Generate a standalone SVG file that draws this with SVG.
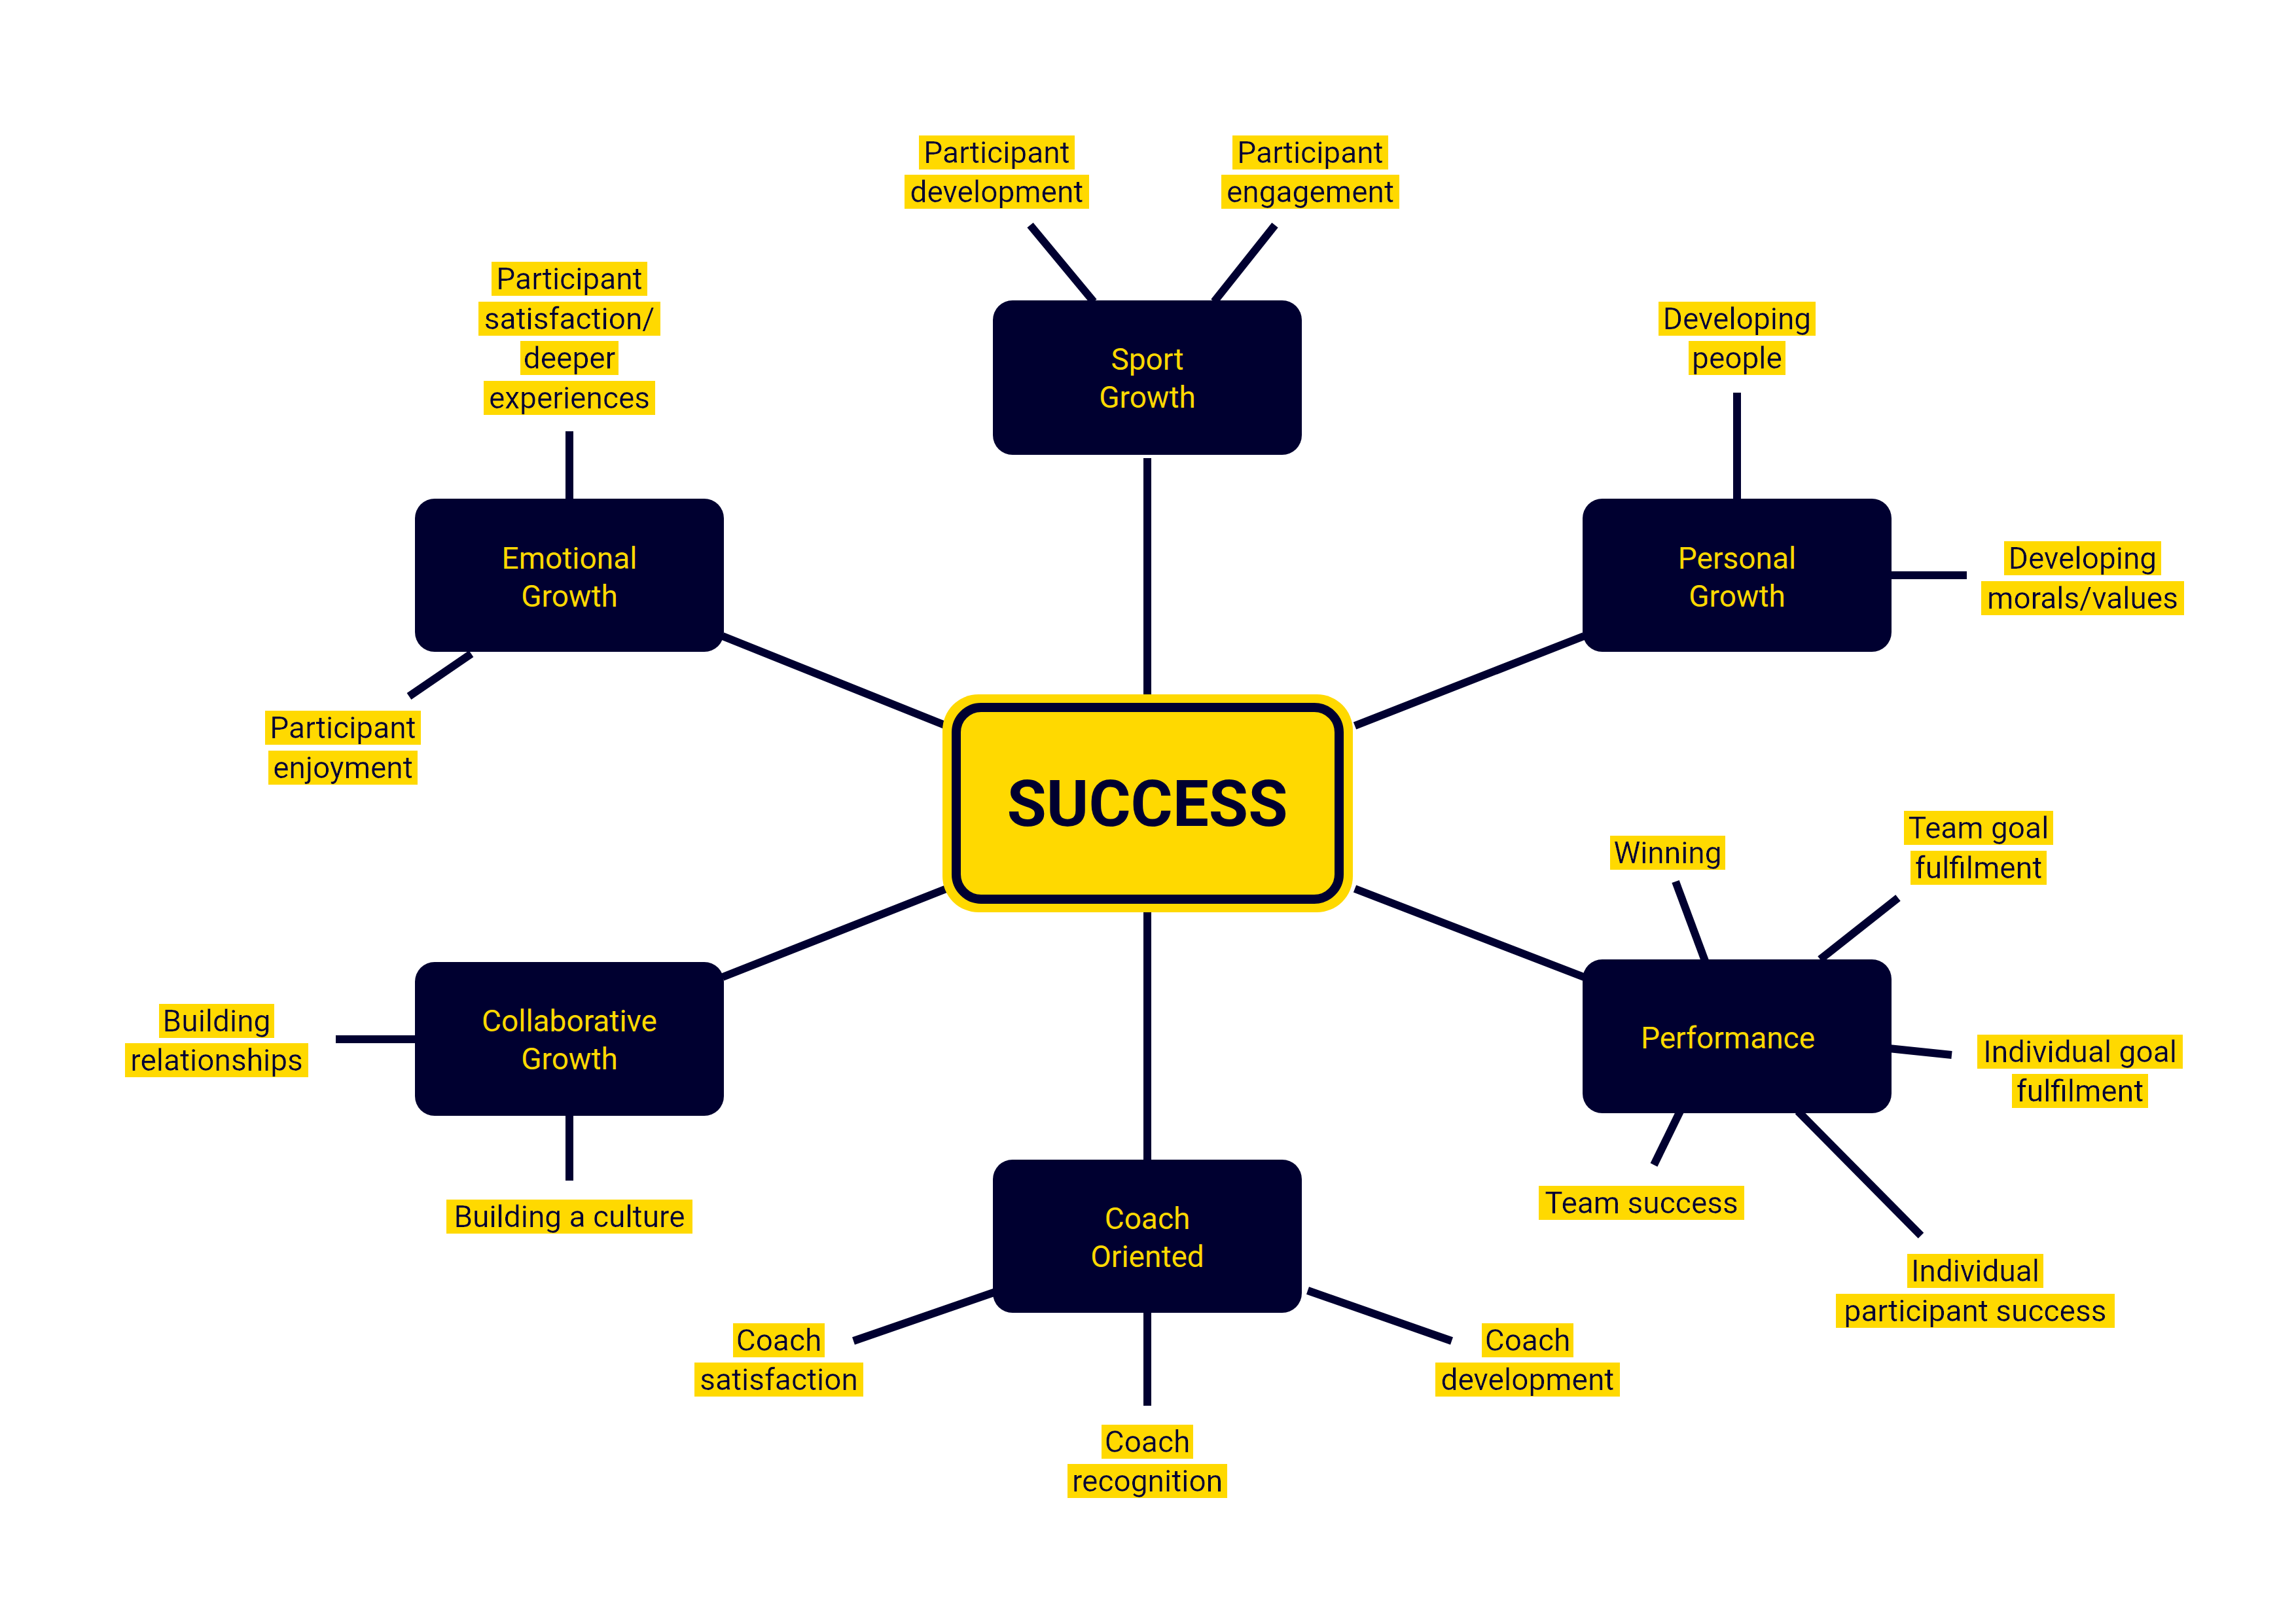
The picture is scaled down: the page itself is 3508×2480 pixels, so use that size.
<svg xmlns="http://www.w3.org/2000/svg" width="3508" height="2480" viewBox="0 0 3508 2480">
<style>
.box{fill:#000030}
.nt{fill:#FFD900;font-family:Roboto,"DejaVu Sans",sans-serif;font-size:46px;text-anchor:middle}
.lt{fill:#000030;font-family:Roboto,"DejaVu Sans",sans-serif;font-size:46px;text-anchor:middle;filter:url(#hl)}
.c line{stroke:#000030;stroke-width:12}
</style>
<defs>
<filter id="hl" x="-0.03" y="0.02" width="1.06" height="0.96">
<feFlood flood-color="#FFD900"/>
<feMerge><feMergeNode/><feMergeNode in="SourceGraphic"/></feMerge>
</filter>
</defs>
<rect width="3508" height="2480" fill="#fff"/>
<g class="c" id="connectors">
<line x1="1753" y1="700" x2="1753" y2="1065"/>
<line x1="1753" y1="1390" x2="1753" y2="1772"/>
<line x1="2070" y1="1109" x2="2420" y2="972"/>
<line x1="1446" y1="1109" x2="1104" y2="972"/>
<line x1="1446" y1="1358" x2="1104" y2="1493"/>
<line x1="2070" y1="1358" x2="2420" y2="1493"/>
<line x1="1574" y1="344" x2="1671" y2="461"/>
<line x1="1948" y1="344" x2="1855" y2="461"/>
<line x1="870" y1="659" x2="870" y2="764"/>
<line x1="720" y1="999" x2="625" y2="1064"/>
<line x1="2654" y1="600" x2="2654" y2="764"/>
<line x1="2888" y1="879" x2="3005" y2="879"/>
<line x1="2560" y1="1347" x2="2605" y2="1468"/>
<line x1="2900" y1="1372" x2="2781" y2="1466"/>
<line x1="2886" y1="1602" x2="2982" y2="1612"/>
<line x1="2567" y1="1698" x2="2527" y2="1780"/>
<line x1="2747" y1="1698" x2="2935" y2="1888"/>
<line x1="513" y1="1588" x2="636" y2="1588"/>
<line x1="870" y1="1703" x2="870" y2="1804"/>
<line x1="1527" y1="1972" x2="1304" y2="2049"/>
<line x1="1753" y1="2004" x2="1753" y2="2148"/>
<line x1="1998" y1="1972" x2="2218" y2="2049"/>
</g>
<g id="success">
<rect x="1440" y="1061" width="627" height="333" rx="55" fill="#FFD900"/>
<rect x="1461" y="1081" width="585" height="293" rx="38" fill="#FFD900" stroke="#000030" stroke-width="14"/>
<text x="1753" y="1262" fill="#000030" font-family="Roboto,'DejaVu Sans',sans-serif" font-weight="bold" font-size="98" text-anchor="middle">SUCCESS</text>
</g>
<g id="sport"><rect class="box" x="1517" y="459" width="472" height="236" rx="30"/><text class="nt" x="1753" y="565">Sport</text><text class="nt" x="1753" y="623">Growth</text></g>
<g id="personal"><rect class="box" x="2418" y="762" width="472" height="234" rx="30"/><text class="nt" x="2654" y="869">Personal</text><text class="nt" x="2654" y="927">Growth</text></g>
<g id="emotional"><rect class="box" x="634" y="762" width="472" height="234" rx="30"/><text class="nt" x="870" y="869">Emotional</text><text class="nt" x="870" y="927">Growth</text></g>
<g id="collaborative"><rect class="box" x="634" y="1470" width="472" height="235" rx="30"/><text class="nt" x="870" y="1576">Collaborative</text><text class="nt" x="870" y="1634">Growth</text></g>
<g id="performance"><rect class="box" x="2418" y="1466" width="472" height="235" rx="30"/><text class="nt" x="2640" y="1602">Performance</text></g>
<g id="coach"><rect class="box" x="1517" y="1772" width="472" height="234" rx="30"/><text class="nt" x="1753" y="1878">Coach</text><text class="nt" x="1753" y="1936">Oriented</text></g>
<g id="leaves">
<text class="lt" x="1523" y="249">Participant</text><text class="lt" x="1523" y="309">development</text>
<text class="lt" x="2002" y="249">Participant</text><text class="lt" x="2002" y="309">engagement</text>
<text class="lt" x="870" y="442">Participant</text><text class="lt" x="870" y="503">satisfaction/</text><text class="lt" x="870" y="563">deeper</text><text class="lt" x="870" y="624">experiences</text>
<text class="lt" x="524" y="1128">Participant</text><text class="lt" x="524" y="1189">enjoyment</text>
<text class="lt" x="2654" y="503">Developing</text><text class="lt" x="2654" y="563">people</text>
<text class="lt" x="3182" y="869">Developing</text><text class="lt" x="3182" y="930">morals/values</text>
<text class="lt" x="2548" y="1319">Winning</text>
<text class="lt" x="3023" y="1281">Team goal</text><text class="lt" x="3023" y="1342">fulfilment</text>
<text class="lt" x="3178" y="1623">Individual goal</text><text class="lt" x="3178" y="1683">fulfilment</text>
<text class="lt" x="2508" y="1854">Team success</text>
<text class="lt" x="3018" y="1958">Individual</text><text class="lt" x="3018" y="2019">participant success</text>
<text class="lt" x="331" y="1576">Building</text><text class="lt" x="331" y="1636">relationships</text>
<text class="lt" x="870" y="1875">Building a culture</text>
<text class="lt" x="1190" y="2064">Coach</text><text class="lt" x="1190" y="2124">satisfaction</text>
<text class="lt" x="1753" y="2219">Coach</text><text class="lt" x="1753" y="2279">recognition</text>
<text class="lt" x="2334" y="2064">Coach</text><text class="lt" x="2334" y="2124">development</text>
</g>
</svg>
